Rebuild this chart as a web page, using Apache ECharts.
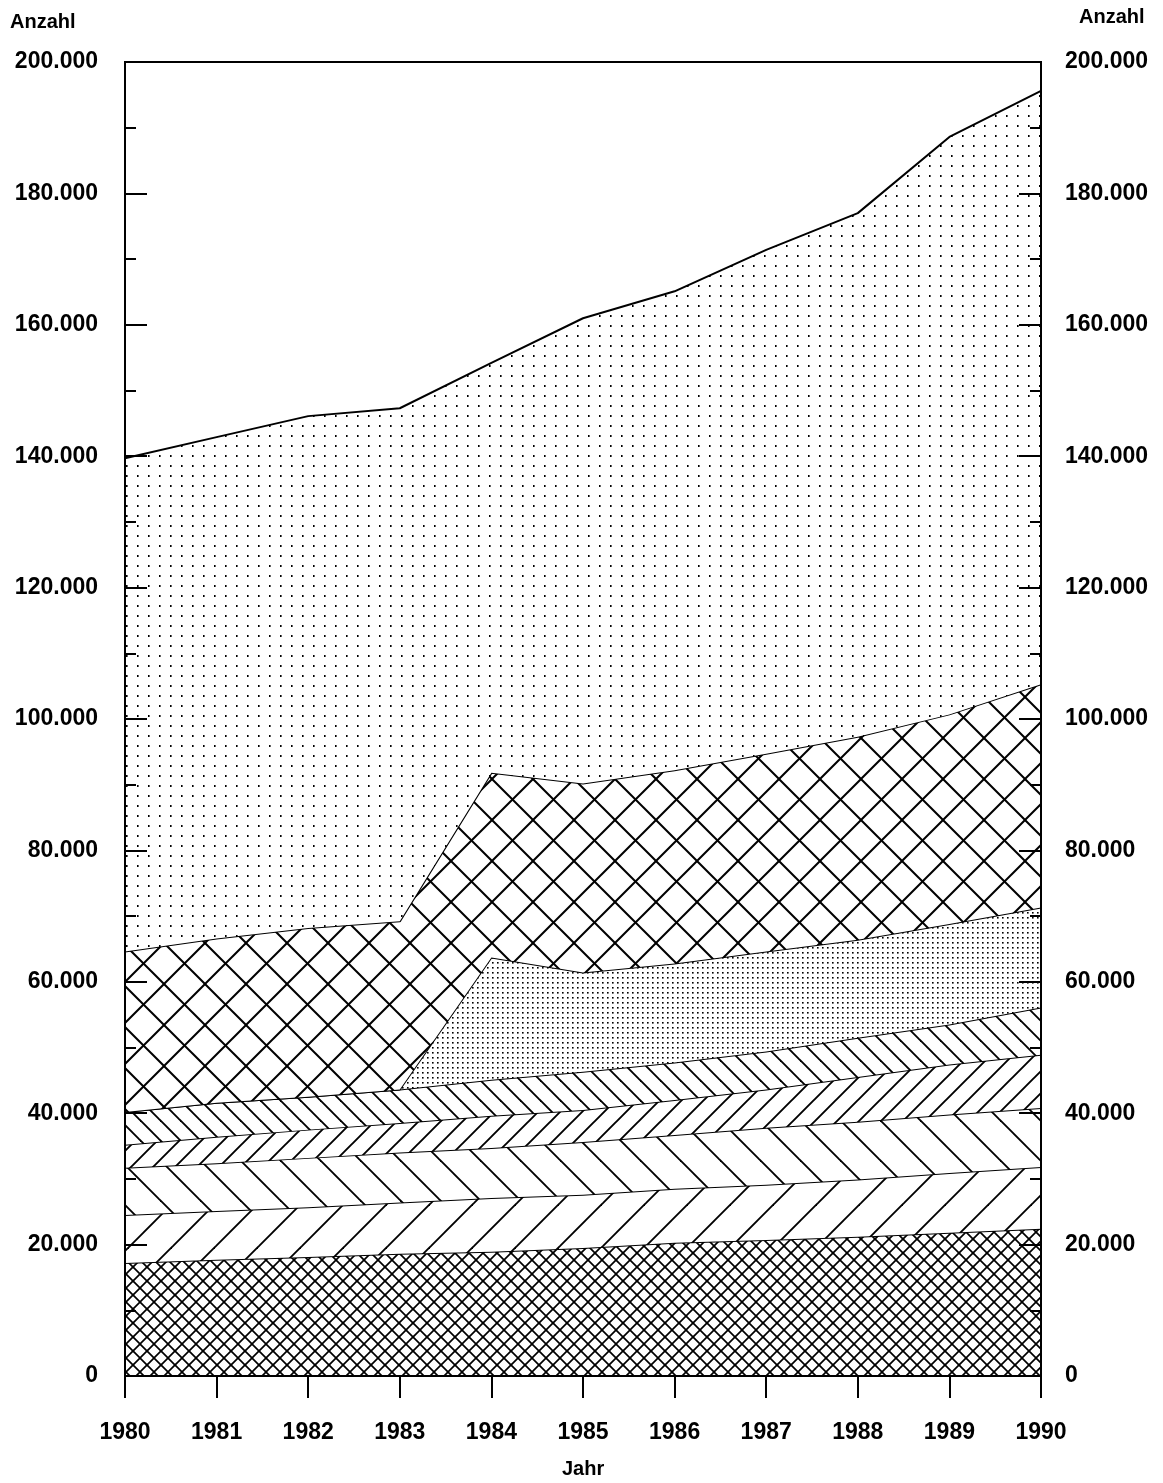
<!DOCTYPE html>
<html><head><meta charset="utf-8">
<script src="https://cdn.jsdelivr.net/npm/echarts@6/dist/echarts.min.js"></script>
<style>html,body{margin:0;padding:0;background:#fff}#c{width:1163px;height:1483px}</style>
</head><body><div id="c"></div>
<script>
// ---- data (values in persons) ----
const years = ['1980','1981','1982','1983','1984','1985','1986','1987','1988','1989','1990'];
const yTicks = [0,20000,40000,60000,80000,100000,120000,140000,160000,180000,200000];
const layer1 = [17200,17700,18100,18600,18900,19500,20300,20700,21200,21800,22400];
const layer2 = [7300,7400,7600,7800,8200,8100,8200,8400,8700,9100,9400];
const layer3 = [7200,7300,7500,7600,7600,8000,8200,8700,8800,8900,9000];
const layer4 = [3500,4000,4300,4500,4900,4900,5300,5800,6800,7600,8100];
const layer5 = [5000,5200,5000,5100,5500,5800,5700,5800,6000,6100,7200];
const layer6 = [0,0,0,0,18600,15100,15100,15200,14900,15300,15200];
const layer7 = [24400,25000,25700,25600,28100,28800,29400,30100,30900,31900,34000];
const layer8 = [75100,76300,77900,78100,62400,70800,72900,76700,79700,87900,90300];

// ---- pattern helpers ----
function hatch(size, dirs, lw){
  const c = document.createElement('canvas'); c.width = size; c.height = size;
  const g = c.getContext('2d');
  g.fillStyle = '#fff'; g.fillRect(0,0,size,size);
  g.strokeStyle = '#000'; g.lineWidth = lw; g.lineCap = 'square';
  for (const d of dirs){
    for (const off of [-size, 0, size]){
      g.beginPath();
      if (d === '/'){ g.moveTo(off-2, size+2); g.lineTo(off+size+2, -2); }
      else { g.moveTo(off-2, -2); g.lineTo(off+size+2, size+2); }
      g.stroke();
    }
  }
  return {image: c, repeat: 'repeat'};
}
function dots(w, h, dw, dh){
  const c = document.createElement('canvas'); c.width = w; c.height = h;
  const g = c.getContext('2d');
  g.fillStyle = '#fff'; g.fillRect(0,0,w,h);
  g.fillStyle = '#000'; g.fillRect(Math.floor(w/2), Math.floor(h/2), dw, dh);
  return {image: c, repeat: 'repeat'};
}

const layers = [
  {data: layer1, fill: hatch(14, ['/','\\'], 1.7)},
  {data: layer2, fill: hatch(43, ['/'], 1.9)},
  {data: layer3, fill: hatch(40, ['\\'], 1.9)},
  {data: layer4, fill: hatch(22, ['/'], 1.9)},
  {data: layer5, fill: hatch(20, ['\\'], 1.9)},
  {data: layer6, fill: dots(5, 5, 1.6, 1.6)},
  {data: layer7, fill: hatch(41, ['/','\\'], 2)},
  {data: layer8, fill: dots(11, 10, 1.6, 2)}
];

const fmt = v => v === 0 ? '0' : (v/1000) + '.000';
const lblFont = {color:'#000', fontFamily:'Liberation Sans, Arial, sans-serif', fontSize:23, fontWeight:'bold'};

const yAxisBase = pos => ({
  type:'value', position: pos, min:0, max:200000, interval:20000, z: 20,
  axisLine:{show:true, lineStyle:{color:'#000', width:2}},
  axisTick:{show:true, inside:true, length:22, lineStyle:{color:'#000', width:2}},
  minorTick:{show:true, splitNumber:2, length:11, lineStyle:{color:'#000', width:2}},
  splitLine:{show:false},
  axisLabel: Object.assign({formatter: fmt, margin: pos==='left'?27:24}, lblFont)
});

const chart = echarts.init(document.getElementById('c'), null, {renderer:'canvas'});
chart.setOption({
  animation:false,
  backgroundColor:'#fff',
  grid:{left:125, right:122, top:62, bottom:107, show:true, borderColor:'#000', borderWidth:2, backgroundColor:'transparent'},
  xAxis:{
    type:'category', data: years, boundaryGap:false, z: 20,
    axisLine:{show:true, lineStyle:{color:'#000', width:2}},
    axisTick:{show:true, inside:false, length:22, lineStyle:{color:'#000', width:2}},
    splitLine:{show:false},
    axisLabel: Object.assign({margin:45, interval:0}, lblFont)
  },
  yAxis:[yAxisBase('left'), yAxisBase('right')],
  series: layers.map((l,i) => ({
    type:'line', stack:'total', data:l.data, yAxisIndex:0,
    symbol:'none', smooth:false,
    lineStyle:{color:'#000', width:2},
    areaStyle:{color:l.fill, opacity:1},
    z: 2 + i
  })),
  graphic:[
    {type:'text', left:10, top:12, style:{text:'Anzahl', fill:'#000', font:'bold 20px "Liberation Sans", Arial, sans-serif'}},
    {type:'text', left:1079, top:7, style:{text:'Anzahl', fill:'#000', font:'bold 20px "Liberation Sans", Arial, sans-serif'}},
    {type:'text', left:562, top:1459, style:{text:'Jahr', fill:'#000', font:'bold 20px "Liberation Sans", Arial, sans-serif'}}
  ]
});
</script>
</body></html>
